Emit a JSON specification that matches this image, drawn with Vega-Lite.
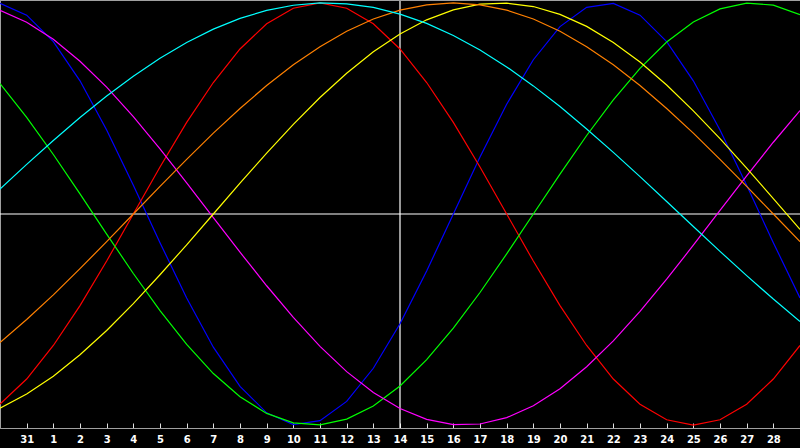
{
  "$schema": "https://vega.github.io/schema/vega-lite/v6.json",
  "width": 800,
  "height": 428,
  "autosize": {"type": "none"},
  "padding": {"left": 0, "top": 0, "right": 0, "bottom": 20},
  "background": "black",
  "config": {
    "view": {"stroke": null},
    "axis": {"grid": false, "title": null},
    "axisX": {
      "domainColor": "#a0a0a0",
      "tickColor": "#e0e0e0",
      "tickSize": -5,
      "labelColor": "white",
      "labelFont": "DejaVu Sans",
      "labelFontWeight": "bold",
      "labelFontSize": 10,
      "labelPadding": 11,
      "labelBaseline": "top",
      "labelOverlap": false,
      "labelBound": false
    },
    "axisY": {"domainColor": "#a0a0a0", "ticks": false, "labels": false}
  },
  "layer": [
    {
      "data": {"values": [{"date": "2024-02-14"}]},
      "mark": {"type": "rule", "color": "white", "strokeWidth": 1.2},
      "encoding": {
        "x": {
          "field": "date",
          "type": "temporal",
          "scale": {"type": "utc", "domain": ["2024-01-30", "2024-02-29"]},
          "axis": {
            "tickCount": {"interval": "day", "step": 1},
            "format": "%-d",
            "labelExpr": "datum.index > 0 && datum.index < 1 ? datum.label : ''",
            "labelOverlap": false
          }
        }
      }
    },
    {
      "data": {"values": [{}]},
      "mark": {"type": "rule", "color": "white", "strokeWidth": 1.2},
      "encoding": {
        "y": {
          "datum": 0,
          "type": "quantitative",
          "scale": {"domain": [-1.014, 1.014], "nice": false, "zero": false}
        }
      }
    },
    {
      "data": {"values": [{}]},
      "mark": {"type": "rule", "color": "#a0a0a0", "strokeWidth": 2},
      "encoding": {"y": {"datum": 1.014, "type": "quantitative"}}
    },
    {
      "data": {
        "values": [
          {"date": "2024-01-30", "Physical": 0.998, "Emotional": -0.901, "Intellectual": 0.618, "Intuitive": 0.965, "Aesthetic": -0.920, "Awareness": -0.609, "Spiritual": 0.118},
          {"date": "2024-01-31", "Physical": 0.942, "Emotional": -0.782, "Intellectual": 0.458, "Intuitive": 0.909, "Aesthetic": -0.853, "Awareness": -0.500, "Spiritual": 0.235},
          {"date": "2024-02-01", "Physical": 0.817, "Emotional": -0.623, "Intellectual": 0.282, "Intuitive": 0.828, "Aesthetic": -0.769, "Awareness": -0.383, "Spiritual": 0.348},
          {"date": "2024-02-02", "Physical": 0.631, "Emotional": -0.434, "Intellectual": 0.095, "Intuitive": 0.724, "Aesthetic": -0.667, "Awareness": -0.259, "Spiritual": 0.457},
          {"date": "2024-02-03", "Physical": 0.398, "Emotional": -0.223, "Intellectual": -0.095, "Intuitive": 0.601, "Aesthetic": -0.552, "Awareness": -0.131, "Spiritual": 0.559},
          {"date": "2024-02-04", "Physical": 0.136, "Emotional": 0.000, "Intellectual": -0.282, "Intuitive": 0.461, "Aesthetic": -0.425, "Awareness": 0.000, "Spiritual": 0.653},
          {"date": "2024-02-05", "Physical": -0.136, "Emotional": 0.223, "Intellectual": -0.458, "Intuitive": 0.309, "Aesthetic": -0.288, "Awareness": 0.131, "Spiritual": 0.738},
          {"date": "2024-02-06", "Physical": -0.398, "Emotional": 0.434, "Intellectual": -0.618, "Intuitive": 0.148, "Aesthetic": -0.146, "Awareness": 0.259, "Spiritual": 0.813},
          {"date": "2024-02-07", "Physical": -0.631, "Emotional": 0.623, "Intellectual": -0.756, "Intuitive": -0.017, "Aesthetic": 0.000, "Awareness": 0.383, "Spiritual": 0.876},
          {"date": "2024-02-08", "Physical": -0.817, "Emotional": 0.782, "Intellectual": -0.866, "Intuitive": -0.181, "Aesthetic": 0.146, "Awareness": 0.500, "Spiritual": 0.927},
          {"date": "2024-02-09", "Physical": -0.942, "Emotional": 0.901, "Intellectual": -0.945, "Intuitive": -0.340, "Aesthetic": 0.288, "Awareness": 0.609, "Spiritual": 0.965},
          {"date": "2024-02-10", "Physical": -0.998, "Emotional": 0.975, "Intellectual": -0.990, "Intuitive": -0.490, "Aesthetic": 0.425, "Awareness": 0.707, "Spiritual": 0.989},
          {"date": "2024-02-11", "Physical": -0.979, "Emotional": 1.000, "Intellectual": -0.999, "Intuitive": -0.627, "Aesthetic": 0.552, "Awareness": 0.793, "Spiritual": 1.000},
          {"date": "2024-02-12", "Physical": -0.888, "Emotional": 0.975, "Intellectual": -0.972, "Intuitive": -0.747, "Aesthetic": 0.667, "Awareness": 0.866, "Spiritual": 0.996},
          {"date": "2024-02-13", "Physical": -0.731, "Emotional": 0.901, "Intellectual": -0.910, "Intuitive": -0.846, "Aesthetic": 0.769, "Awareness": 0.924, "Spiritual": 0.979},
          {"date": "2024-02-14", "Physical": -0.520, "Emotional": 0.782, "Intellectual": -0.815, "Intuitive": -0.922, "Aesthetic": 0.853, "Awareness": 0.966, "Spiritual": 0.947},
          {"date": "2024-02-15", "Physical": -0.270, "Emotional": 0.623, "Intellectual": -0.690, "Intuitive": -0.973, "Aesthetic": 0.920, "Awareness": 0.991, "Spiritual": 0.903},
          {"date": "2024-02-16", "Physical": 0.000, "Emotional": 0.434, "Intellectual": -0.541, "Intuitive": -0.998, "Aesthetic": 0.967, "Awareness": 1.000, "Spiritual": 0.846},
          {"date": "2024-02-17", "Physical": 0.270, "Emotional": 0.223, "Intellectual": -0.372, "Intuitive": -0.995, "Aesthetic": 0.994, "Awareness": 0.991, "Spiritual": 0.777},
          {"date": "2024-02-18", "Physical": 0.520, "Emotional": 0.000, "Intellectual": -0.189, "Intuitive": -0.965, "Aesthetic": 0.999, "Awareness": 0.966, "Spiritual": 0.697},
          {"date": "2024-02-19", "Physical": 0.731, "Emotional": -0.223, "Intellectual": 0.000, "Intuitive": -0.909, "Aesthetic": 0.983, "Awareness": 0.924, "Spiritual": 0.607},
          {"date": "2024-02-20", "Physical": 0.888, "Emotional": -0.434, "Intellectual": 0.189, "Intuitive": -0.828, "Aesthetic": 0.946, "Awareness": 0.866, "Spiritual": 0.509},
          {"date": "2024-02-21", "Physical": 0.979, "Emotional": -0.623, "Intellectual": 0.372, "Intuitive": -0.724, "Aesthetic": 0.889, "Awareness": 0.793, "Spiritual": 0.403},
          {"date": "2024-02-22", "Physical": 0.998, "Emotional": -0.782, "Intellectual": 0.541, "Intuitive": -0.601, "Aesthetic": 0.813, "Awareness": 0.707, "Spiritual": 0.292},
          {"date": "2024-02-23", "Physical": 0.942, "Emotional": -0.901, "Intellectual": 0.690, "Intuitive": -0.461, "Aesthetic": 0.720, "Awareness": 0.609, "Spiritual": 0.177},
          {"date": "2024-02-24", "Physical": 0.817, "Emotional": -0.975, "Intellectual": 0.815, "Intuitive": -0.309, "Aesthetic": 0.611, "Awareness": 0.500, "Spiritual": 0.059},
          {"date": "2024-02-25", "Physical": 0.631, "Emotional": -1.000, "Intellectual": 0.910, "Intuitive": -0.148, "Aesthetic": 0.489, "Awareness": 0.383, "Spiritual": -0.059},
          {"date": "2024-02-26", "Physical": 0.398, "Emotional": -0.975, "Intellectual": 0.972, "Intuitive": 0.017, "Aesthetic": 0.357, "Awareness": 0.259, "Spiritual": -0.177},
          {"date": "2024-02-27", "Physical": 0.136, "Emotional": -0.901, "Intellectual": 0.999, "Intuitive": 0.181, "Aesthetic": 0.217, "Awareness": 0.131, "Spiritual": -0.292},
          {"date": "2024-02-28", "Physical": -0.136, "Emotional": -0.782, "Intellectual": 0.990, "Intuitive": 0.340, "Aesthetic": 0.073, "Awareness": 0.000, "Spiritual": -0.403},
          {"date": "2024-02-29", "Physical": -0.398, "Emotional": -0.623, "Intellectual": 0.945, "Intuitive": 0.490, "Aesthetic": -0.073, "Awareness": -0.131, "Spiritual": -0.509}
        ]
      },
      "transform": [
        {"fold": ["Physical", "Emotional", "Intellectual", "Intuitive", "Aesthetic", "Awareness", "Spiritual"], "as": ["cycle", "value"]}
      ],
      "mark": {"type": "line", "strokeWidth": 1.2},
      "encoding": {
        "x": {
          "field": "date",
          "type": "temporal",
          "axis": {
            "tickCount": {"interval": "day", "step": 1},
            "format": "%-d",
            "labelExpr": "datum.index > 0 && datum.index < 1 ? datum.label : ''",
            "labelOverlap": false
          }
        },
        "y": {"field": "value", "type": "quantitative"},
        "color": {
          "field": "cycle",
          "type": "nominal",
          "scale": {
            "domain": ["Physical", "Emotional", "Intellectual", "Intuitive", "Aesthetic", "Awareness", "Spiritual"],
            "range": ["#0000ff", "#ff0000", "#00ff00", "#ff00ff", "#ffff00", "#ff8000", "#00ffff"]
          },
          "legend": null
        }
      }
    }
  ]
}
